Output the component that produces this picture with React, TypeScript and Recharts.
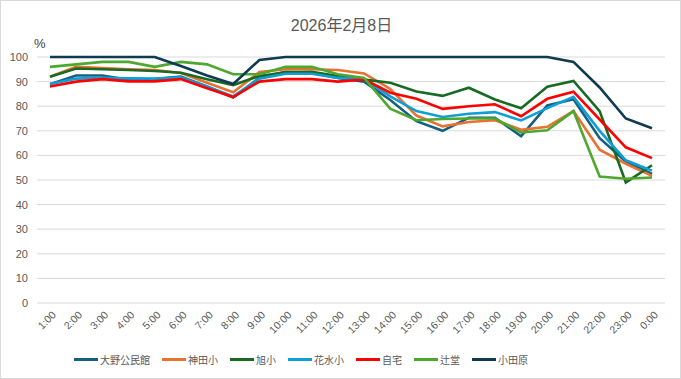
import { LineChart, Line, XAxis, YAxis, CartesianGrid } from "recharts";

const times = [
  "1:00", "2:00", "3:00", "4:00", "5:00", "6:00", "7:00", "8:00", "9:00", "10:00", "11:00", "12:00",
  "13:00", "14:00", "15:00", "16:00", "17:00", "18:00", "19:00", "20:00", "21:00", "22:00", "23:00", "0:00",
];

const ono = [88.9, 92.5, 92.5, 90.7, 91, 92, 88, 83.5, 91.5, 94, 93.6, 91.5, 90, 82.5, 73.9, 70, 75.3, 75.3, 67.8, 80.3, 82.8, 67, 57.5, 52.5];
const kanda = [92, 96, 95.5, 95, 94.7, 93.5, 89.5, 85.7, 93.9, 95, 95, 94.7, 93.3, 87, 76.2, 71.8, 73.6, 74.3, 70.4, 71.6, 78, 62.3, 56.6, 51.7];
const asahi = [92, 95.3, 95, 94.7, 94.3, 93.6, 91, 88.6, 92.3, 93.8, 94, 92.3, 90.8, 89.5, 86, 84.2, 87.5, 82.7, 79.2, 87.9, 90.3, 78, 49, 56];
const hanamizu = [89, 91.2, 91.5, 91.3, 91.2, 91.7, 88, 84, 91.2, 93.2, 93.2, 91.5, 91, 84, 78, 75.6, 76.9, 77.6, 74.2, 79.2, 83.8, 70, 58, 53.8];
const jitaku = [88, 90, 91, 90.1, 90.1, 91, 87.3, 83.7, 90, 91, 91, 90, 90.9, 85.5, 83, 78.9, 80, 80.8, 75.9, 83, 85.9, 74.6, 63.3, 58.9];
const tsujido = [96, 97, 98, 98, 96, 98, 97, 93, 93, 96, 96, 93, 91.5, 79, 74.3, 74.8, 75, 75, 69.3, 70.2, 78, 51.4, 50.5, 51];
const odawara = [100, 100, 100, 100, 100, 96.3, 92.5, 89, 98.8, 100, 100, 100, 100, 100, 100, 100, 100, 100, 100, 100, 98, 87.6, 75, 71];

const yTicks = [0, 10, 20, 30, 40, 50, 60, 70, 80, 90, 100];

const series = [
  { key: "ono", name: "大野公民館", color: "#156082", values: ono },
  { key: "kanda", name: "神田小", color: "#E97132", values: kanda },
  { key: "asahi", name: "旭小", color: "#196B24", values: asahi },
  { key: "hanamizu", name: "花水小", color: "#0F9ED5", values: hanamizu },
  { key: "jitaku", name: "自宅", color: "#FF0000", values: jitaku },
  { key: "tsujido", name: "辻堂", color: "#4EA72E", values: tsujido },
  { key: "odawara", name: "小田原", color: "#0E3A52", values: odawara },
];

const data = times.map((t, i) => {
  const row: Record<string, string | number> = { time: t };
  series.forEach((s) => {
    row[s.key] = s.values[i];
  });
  return row;
});

const font = '"Liberation Sans", "Noto Sans CJK JP", sans-serif';

function TimeTick(props: any) {
  const { x, y, payload } = props;
  return (
    <g transform={`translate(${x + 4},${y + 2})`}>
      <text
        transform="rotate(-45)"
        textAnchor="end"
        dy="0.35em"
        fontSize={10.5}
        fill="#595959"
        fontFamily={font}
      >
        {payload.value}
      </text>
    </g>
  );
}

export default function App() {
  return (
    <div
      style={{
        position: "absolute",
        left: 0,
        top: 0,
        width: 681,
        height: 379,
        background: "#fff",
        border: "1px solid #D9D9D9",
        boxSizing: "border-box",
        fontFamily: font,
      }}
    >
      <div
        style={{
          position: "absolute",
          top: 11,
          left: 0,
          width: 681,
          textAlign: "center",
          fontSize: 16,
          color: "#595959",
        }}
      >
        2026年2月8日
      </div>
      <div style={{ position: "absolute", top: 35, left: 33, fontSize: 13, color: "#404040" }}>%</div>
      <div style={{ position: "absolute", left: -1, top: -1 }}>
        <LineChart width={681} height={379} data={data} margin={{ top: 57, right: 16, bottom: 0, left: 0 }}>
          <CartesianGrid vertical={false} stroke="#D9D9D9" />
          <XAxis
            dataKey="time"
            interval={0}
            tickLine={false}
            axisLine={false}
            height={76}
            padding={{ left: 13, right: 13 }}
            tick={<TimeTick />}
          />
          <YAxis
            domain={[0, 100]}
            ticks={yTicks}
            width={37}
            tickLine={false}
            axisLine={false}
            tickMargin={3}
            tick={{ fontSize: 11, fill: "#595959", fontFamily: font }}
          />
          {series.map((s) => (
            <Line
              key={s.key}
              dataKey={s.key}
              name={s.name}
              stroke={s.color}
              strokeWidth={2.6}
              dot={false}
              type="linear"
              isAnimationActive={false}
            />
          ))}
        </LineChart>
      </div>
      <div
        style={{
          position: "absolute",
          top: 351,
          left: 73,
          display: "flex",
          alignItems: "center",
          fontSize: 10,
          color: "#595959",
          fontFamily: '"Noto Sans CJK JP", sans-serif',
        }}
      >
        {series.map((s) => (
          <div key={s.key} style={{ display: "flex", alignItems: "center", marginRight: 12 }}>
            <div style={{ width: 24, height: 3, background: s.color, marginRight: 2 }} />
            <span>{s.name}</span>
          </div>
        ))}
      </div>
    </div>
  );
}
